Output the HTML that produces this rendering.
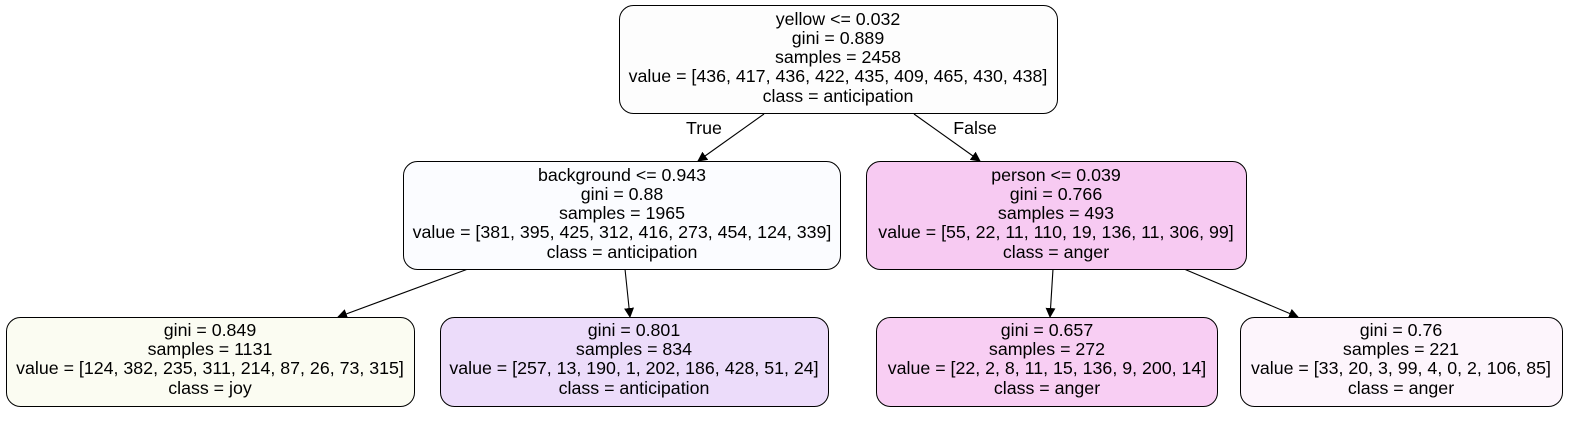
<!DOCTYPE html>
<html><head><meta charset="utf-8"><style>
body{margin:0;background:#fff}
svg text{font-family:"Liberation Sans",sans-serif;font-size:17.8px;text-anchor:middle;fill:#000}
</style></head><body>
<svg width="1593" height="419" viewBox="0 0 1593 419">
<defs><marker id="ah" markerWidth="10" markerHeight="10" refX="9" refY="5" orient="auto" markerUnits="userSpaceOnUse"><path d="M0,0 L10,5 L0,10 z" fill="#000"/></marker></defs>
<g stroke="#000" stroke-width="1.1" fill="none">
<line x1="764" y1="114" x2="698" y2="161" marker-end="url(#ah)"/>
<line x1="914" y1="114" x2="980" y2="161" marker-end="url(#ah)"/>
<line x1="468" y1="269" x2="338" y2="317" marker-end="url(#ah)"/>
<line x1="625" y1="269" x2="630" y2="317" marker-end="url(#ah)"/>
<line x1="1053" y1="269" x2="1050" y2="317" marker-end="url(#ah)"/>
<line x1="1184" y1="269" x2="1298" y2="317" marker-end="url(#ah)"/>
</g>
<text x="704" y="134">True</text>
<text x="975" y="134">False</text>

<g>
<rect x="619.5" y="5.5" width="438" height="108" rx="14" fill="#fdfdfd" stroke="#000"/>
<text x="838" y="25">yellow &lt;= 0.032</text><text x="838" y="44">gini = 0.889</text><text x="838" y="63">samples = 2458</text><text x="838" y="82">value = [436, 417, 436, 422, 435, 409, 465, 430, 438]</text><text x="838" y="102">class = anticipation</text>
</g>
<g>
<rect x="403.5" y="161.5" width="437" height="108" rx="14" fill="#fbfcff" stroke="#000"/>
<text x="622" y="181">background &lt;= 0.943</text><text x="622" y="200">gini = 0.88</text><text x="622" y="219">samples = 1965</text><text x="622" y="238">value = [381, 395, 425, 312, 416, 273, 454, 124, 339]</text><text x="622" y="258">class = anticipation</text>
</g>
<g>
<rect x="866.5" y="161.5" width="380" height="108" rx="14" fill="#f7caf2" stroke="#000"/>
<text x="1056" y="181">person &lt;= 0.039</text><text x="1056" y="200">gini = 0.766</text><text x="1056" y="219">samples = 493</text><text x="1056" y="238">value = [55, 22, 11, 110, 19, 136, 11, 306, 99]</text><text x="1056" y="258">class = anger</text>
</g>
<g>
<rect x="6.5" y="317.5" width="408" height="89" rx="14" fill="#fbfcf2" stroke="#000"/>
<text x="210" y="336">gini = 0.849</text><text x="210" y="355">samples = 1131</text><text x="210" y="374">value = [124, 382, 235, 311, 214, 87, 26, 73, 315]</text><text x="210" y="394">class = joy</text>
</g>
<g>
<rect x="440.5" y="317.5" width="388" height="89" rx="14" fill="#ecdcfa" stroke="#000"/>
<text x="634" y="336">gini = 0.801</text><text x="634" y="355">samples = 834</text><text x="634" y="374">value = [257, 13, 190, 1, 202, 186, 428, 51, 24]</text><text x="634" y="394">class = anticipation</text>
</g>
<g>
<rect x="876.5" y="317.5" width="341" height="89" rx="14" fill="#f8cef3" stroke="#000"/>
<text x="1047" y="336">gini = 0.657</text><text x="1047" y="355">samples = 272</text><text x="1047" y="374">value = [22, 2, 8, 11, 15, 136, 9, 200, 14]</text><text x="1047" y="394">class = anger</text>
</g>
<g>
<rect x="1240.5" y="317.5" width="322" height="89" rx="14" fill="#fdf5fc" stroke="#000"/>
<text x="1401" y="336">gini = 0.76</text><text x="1401" y="355">samples = 221</text><text x="1401" y="374">value = [33, 20, 3, 99, 4, 0, 2, 106, 85]</text><text x="1401" y="394">class = anger</text>
</g>
</svg>
</body></html>
